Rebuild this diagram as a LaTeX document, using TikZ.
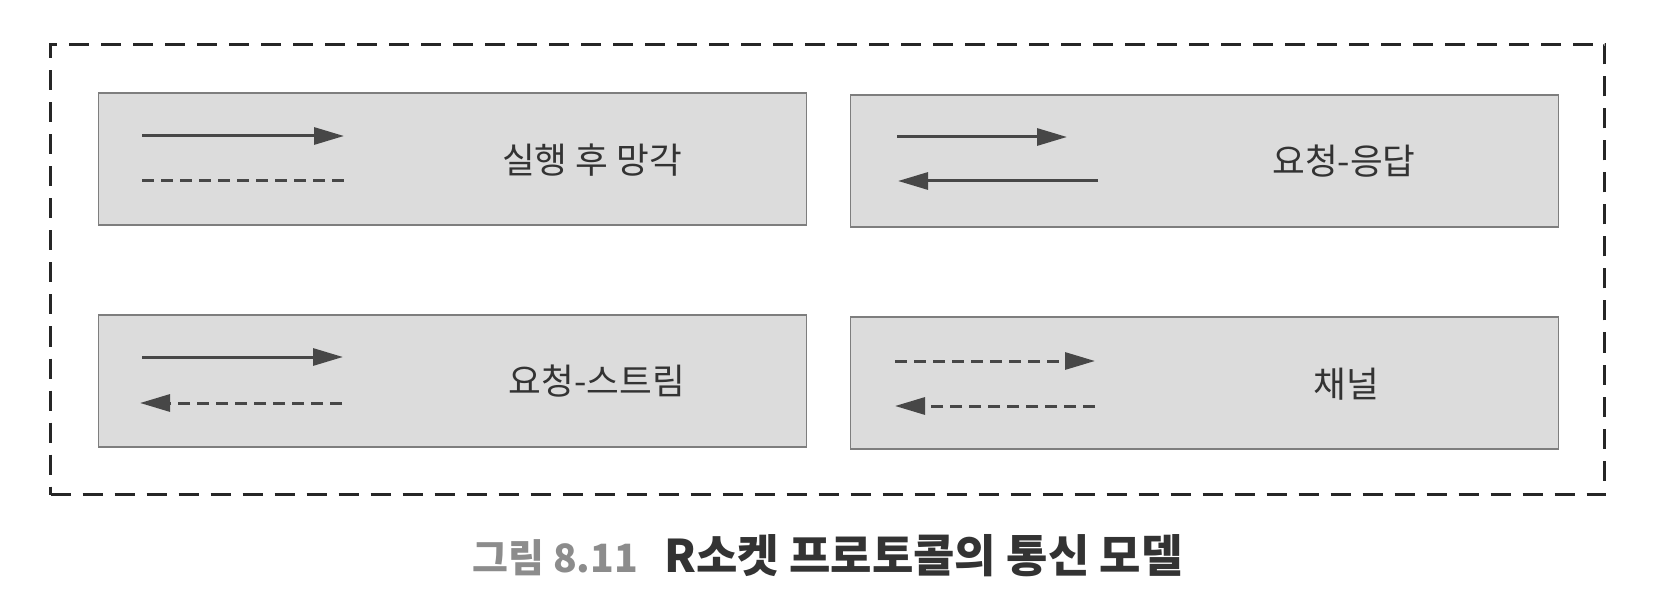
\documentclass[tikz,border=0pt]{standalone}
\usepackage{fontspec}
\newfontfamily\kr{Noto Sans CJK KR}
\usetikzlibrary{arrows.meta}
\definecolor{boxfill}{HTML}{DCDCDC}
\definecolor{boxline}{HTML}{7E7E7E}
\definecolor{arrgray}{HTML}{474747}
\definecolor{txtdark}{HTML}{333333}
\definecolor{capgray}{HTML}{8C8C8C}
\tikzset{
  modelbox/.style={draw=boxline, line width=0.6pt, fill=boxfill, minimum width=354pt, minimum height=66pt, inner sep=0pt},
  modellabel/.style={font=\kr\fontsize{17.8pt}{20pt}\selectfont, text=txtdark, inner sep=0pt},
  solidarr/.style={draw=arrgray, line width=1.5pt, -{Triangle[length=15pt,width=8.5pt]}},
  dasharr/.style={solidarr, dash pattern=on 6pt off 3.5pt},
  dashline/.style={draw=arrgray, line width=1.5pt, dash pattern=on 6pt off 3.5pt},
  outerframe/.style={draw=black!85, line width=1.2pt, dash pattern=on 10pt off 6pt},
  captext/.style={font=\kr\bfseries\fontsize{#1}{24pt}\selectfont, inner sep=0pt, anchor=base west},
}
\begin{document}
\begin{tikzpicture}[x=0.5pt,y=-0.5pt]
\useasboundingbox (0,0) rectangle (1660,604);
\fill[white] (0,0) rectangle (1660,604);
% outer dashed frame
\node[outerframe, minimum width=777pt, minimum height=225pt, inner sep=0pt] (frame) at (827.5,269.5) {};
% boxes
\node[modelbox] (b1) at (452.5,159) {};
\node[modelbox] (b2) at (1204.5,161) {};
\node[modelbox] (b3) at (452.5,381) {};
\node[modelbox] (b4) at (1204.5,383) {};
% labels
\node[modellabel] (l1) at (592,160) {실행 후 망각};
\node[modellabel] (l2) at (1344,161) {요청-응답};
\node[modellabel] (l3) at (597,381) {요청-스트림};
\node[modellabel] (l4) at (1346,384) {채널};
% arrow end points
\coordinate (a1s) at (142,136); \coordinate (a1e) at (344,136);
\coordinate (d1s) at (142,181); \coordinate (d1e) at (344,181);
\coordinate (a2s) at (897,137); \coordinate (a2e) at (1067,137);
\coordinate (r2s) at (1098,181); \coordinate (r2e) at (898,181);
\coordinate (a3s) at (142,357); \coordinate (a3e) at (343,357);
\coordinate (r3s) at (342,403); \coordinate (r3e) at (140,403);
\coordinate (a4s) at (895,361); \coordinate (a4e) at (1095,361);
\coordinate (r4s) at (1095,406); \coordinate (r4e) at (895,406);
% connectors
\draw[solidarr] (a1s) -- (a1e);
\draw[dashline] (d1s) -- (d1e);
\draw[solidarr] (a2s) -- (a2e);
\draw[solidarr] (r2s) -- (r2e);
\draw[solidarr] (a3s) -- (a3e);
\draw[dasharr] (r3s) -- (r3e);
\draw[dasharr] (a4s) -- (a4e);
\draw[dasharr] (r4s) -- (r4e);
% caption
\node[captext=19.5pt, text=capgray] (capnum) at (472,572) {그림 8.11};
\node[captext=22.5pt, text=txtdark] (captitle) at (664,572) {R소켓 프로토콜의 통신 모델};
\end{tikzpicture}
\end{document}
